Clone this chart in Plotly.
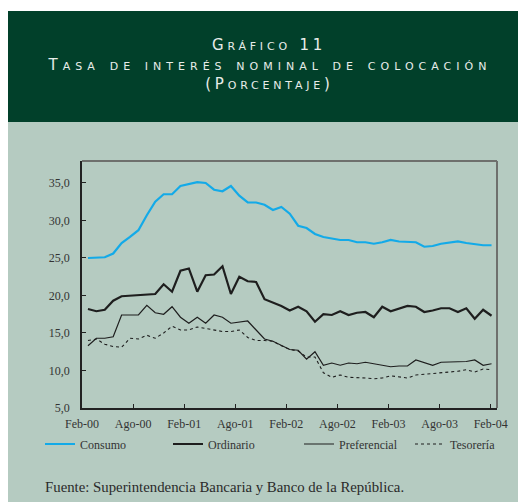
import plotly.graph_objects as go

# Monthly data, Feb-00 .. Feb-04 (49 months)
consumo = [25.0, 25.05, 25.1, 25.6, 27.0, 27.8, 28.7, 30.7, 32.5, 33.5, 33.5, 34.6, 34.8,
           35.1, 35.0, 34.1, 33.9, 34.6, 33.3, 32.4, 32.4, 32.1, 31.4, 31.8, 30.9, 29.3,
           29.0, 28.2, 27.8, 27.6, 27.4, 27.4, 27.1, 27.1, 26.9, 27.1, 27.4, 27.2, 27.2,
           27.1, 26.5, 26.6, 26.9, 27.1, 27.2, 27.0, 26.8, 26.7, 26.7]
ordinario = [18.2, 17.9, 18.1, 19.3, 19.9, 20.0, 20.0, 20.1, 20.2, 21.5, 20.5, 23.3, 23.6,
             20.5, 22.7, 22.8, 23.9, 20.2, 22.5, 21.9, 21.8, 19.5, 19.1, 18.6, 18.0, 18.5,
             17.9, 16.5, 17.5, 17.4, 17.9, 17.4, 17.7, 17.8, 17.1, 18.5, 17.9, 18.2, 18.6,
             18.5, 17.8, 18.0, 18.3, 18.3, 17.8, 18.3, 16.9, 18.1, 17.3]
preferencial = [13.3, 14.3, 14.3, 14.5, 17.4, 17.4, 17.4, 18.7, 17.7, 17.5, 18.5, 17.1, 16.3,
                17.1, 16.3, 17.4, 17.1, 16.3, 16.5, 16.6, 15.4, 14.2, 13.9, 13.4, 12.8, 12.7,
                11.5, 12.5, 10.7, 11.0, 10.7, 11.0, 10.9, 11.1, 10.9, 10.6, 10.5, 10.6, 10.6,
                11.4, 11.1, 10.7, 11.1, 11.1, 11.1, 11.2, 11.4, 10.7, 10.9]
tesoreria = [14.0, 14.2, 13.5, 13.2, 13.1, 14.3, 14.2, 14.7, 14.3, 15.0, 15.9, 15.4, 15.4,
             15.8, 15.6, 15.4, 15.2, 15.2, 15.4, 14.4, 14.0, 14.0, 13.9, 13.3, 12.8, 12.6,
             11.8, 11.8, 9.7, 9.1, 9.4, 9.1, 9.1, 9.0, 8.9, 9.0, 9.3, 9.2, 9.0,
             9.4, 9.5, 9.6, 9.7, 9.7, 9.9, 10.1, 9.8, 10.2, 10.1]
tick_labels = ["Feb-00", "Ago-00", "Feb-01", "Ago-01", "Feb-02", "Ago-02", "Feb-03", "Ago-03", "Feb-04"]
y_ticks = [5, 10, 15, 20, 25, 30, 35]

x = list(range(len(consumo)))

# geometry helpers (page pixels; the page body has an 8px margin)
OFF = 8
W, H = 526 - OFF, 502 - OFF
L, R, T, B = 82 - OFF, 497 - OFF, 161 - OFF, 408 - OFF
X0, X1 = -0.71, 48.65
Y0, Y1 = 5.0, 37.93


def px(p):
    return (p - OFF - L) / (R - L)


def py(p):
    return (B - (p - OFF)) / (B - T)


SAGE = "#B5CBC1"
GREEN = "#01402A"
TXT = "#333333"
serif = "Liberation Serif"

fig = go.Figure()
series = [
    ("Consumo", consumo, dict(color="#13AAE8", width=2.2), "legend"),
    ("Ordinario", ordinario, dict(color="#1E1E1E", width=2.2), "legend2"),
    ("Preferencial", preferencial, dict(color="#1E1E1E", width=1.2), "legend3"),
    ("Tesorería", tesoreria, dict(color="#1E1E1E", width=1.1, dash="dot"), "legend4"),
]
for name, vals, line, lg in series:
    fig.add_trace(go.Scatter(x=x, y=vals, mode="lines", name=name, line=line,
                             legend=lg, showlegend=True))

step = (48 - 0.1 - X0) / 8
tickvals = [X0 + k * step for k in range(9)]

legend_common = dict(orientation="h", yanchor="middle", xanchor="left",
                     bgcolor="rgba(0,0,0,0)", borderwidth=0,
                     font=dict(family=serif, size=12, color=TXT),
                     y=py(444))
fig.update_layout(
    width=W, height=H,
    margin=dict(l=L, r=W - R, t=T, b=H - B),
    paper_bgcolor="white",
    plot_bgcolor=SAGE,
    separators=",.",
    xaxis=dict(range=[X0, X1], tickvals=tickvals, ticktext=tick_labels,
               ticks="inside", ticklen=4, tickcolor="#222", tickwidth=1,
               showline=True, linecolor="#222", linewidth=1.5,
               showgrid=False, zeroline=False, ticklabelstandoff=4,
               tickfont=dict(family=serif, size=12, color=TXT)),
    yaxis=dict(range=[Y0, Y1], tickvals=y_ticks, tickformat=".1f",
               ticks="inside", ticklen=4, tickcolor="#222", tickwidth=1,
               showline=True, linecolor="#222", linewidth=1.5,
               showgrid=False, zeroline=False, ticklabelstandoff=8,
               tickfont=dict(family=serif, size=12, color=TXT)),
    legend=dict(legend_common, x=px(43 - 3)),
    legend2=dict(legend_common, x=px(171 - 3)),
    legend3=dict(legend_common, x=px(302 - 3)),
    legend4=dict(legend_common, x=px(413 - 3)),
    showlegend=True,
)

# page background panels
fig.add_shape(type="rect", xref="paper", yref="paper", layer="below",
              x0=px(8), x1=px(530), y0=py(510), y1=py(122),
              fillcolor=SAGE, line_width=0)
fig.add_shape(type="rect", xref="paper", yref="paper", layer="below",
              x0=px(8), x1=px(530), y0=py(122), y1=py(11),
              fillcolor=GREEN, line_width=0)
# top and right frame lines (gray)
fig.add_shape(type="line", xref="paper", yref="paper", x0=0, x1=1, y0=1, y1=1,
              line=dict(color="#6E706D", width=2))
fig.add_shape(type="line", xref="paper", yref="paper", x0=1, x1=1, y0=0, y1=1,
              line=dict(color="#6E706D", width=2))

title_font = dict(family="DejaVu Sans", size=15, color="#E8EDE9", variant="small-caps")
for txt, yy in [("Gráfico 11", 45), ("Tasa de interés nominal de colocación", 65),
                ("(Porcentaje)", 84)]:
    fig.add_annotation(text=txt, xref="paper", yref="paper", x=px(269), y=py(yy),
                       xanchor="center", yanchor="middle", showarrow=False,
                       font=title_font)

fig.add_annotation(text="Fuente: Superintendencia Bancaria y Banco de la República.",
                   xref="paper", yref="paper", x=px(43), y=py(487),
                   xanchor="left", yanchor="middle", showarrow=False,
                   font=dict(family=serif, size=14.8, color="#2A2A2A"))

post = """
var gd = document.getElementById('{plot_id}');
function spacing(){
  gd.querySelectorAll('.annotation-text').forEach(function(t){
    var s = t.textContent;
    if (s.indexOf('Tasa') >= 0) { t.style.letterSpacing = '5px'; }
    else if (s.indexOf('Fuente') < 0) { t.style.letterSpacing = '3.8px'; }
  });
}
spacing();
gd.on('plotly_afterplot', spacing);
"""
fig.write_html("out.html", post_script=post)
